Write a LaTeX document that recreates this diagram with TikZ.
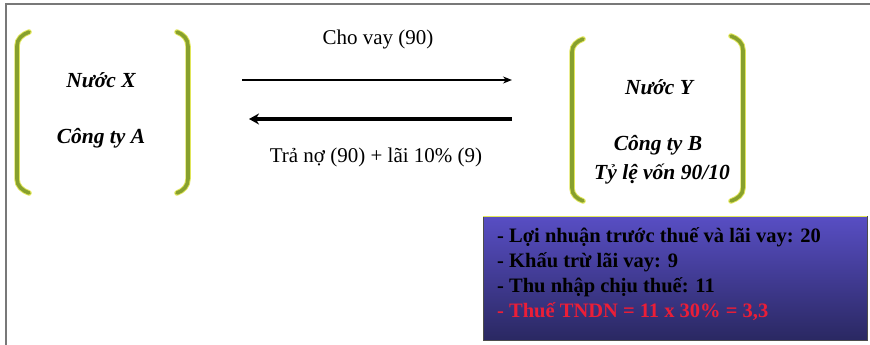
\documentclass[tikz,border=0pt]{standalone}
\usepackage{fontspec}
\setmainfont{Liberation Serif}
\usetikzlibrary{arrows.meta}
\definecolor{brkgreen}{RGB}{135,160,45}
\definecolor{brkglow}{RGB}{225,230,90}
\definecolor{boxtop}{RGB}{88,78,196}
\definecolor{boxbot}{RGB}{42,40,98}
\definecolor{redtxt}{RGB}{235,30,55}
\definecolor{framegray}{RGB}{120,120,120}
\tikzset{
  glow/.style={line width=5.5pt, brkglow, line cap=round},
  brk/.style={line width=3.6pt, brkgreen, line cap=round},
  ent/.style={font=\fontsize{21.5}{24}\selectfont\bfseries\itshape, inner sep=0pt, anchor=base},
  lbl/.style={font=\fontsize{21}{24}\selectfont, inner sep=0pt},
  flow/.style={-{Stealth[length=9pt,width=7pt]}},
  boxline/.style={font=\fontsize{20.5}{23}\selectfont\bfseries, inner sep=0pt, anchor=base west},
}
\begin{document}
\begin{tikzpicture}[x=1pt,y=-1pt]
\useasboundingbox (0,0) rectangle (870,345);
\fill[white] (0,0) rectangle (870,345);
% frame
\draw[framegray, line width=1.8pt] (6,345) -- (6,4) -- (870,4);
% brackets
\foreach \s in {glow,brk}{
  \draw[\s] (29,32) to[out=200,in=90] (17,46) -- (17,179) to[out=-90,in=160] (29,193);
  \draw[\s] (177,32) to[out=-20,in=90] (188,46) -- (188,179) to[out=-90,in=20] (177,193);
  \draw[\s] (583,39) to[out=200,in=90] (572,52) -- (572,188) to[out=-90,in=160] (583,201);
  \draw[\s] (731,36) to[out=-20,in=90] (743,50) -- (743,188) to[out=-90,in=20] (731,201);
}
% entities
\node[ent] (nx) at (101,88) {Nước X};
\node[ent] (ca) at (101,143) {Công ty A};
\node[ent] (ny) at (659,95) {Nước Y};
\node[ent] (cb) at (658,150) {Công ty B};
\node[ent] (tl) at (662,179) {Tỷ lệ vốn 90/10};
% arrows
\coordinate (a1) at (242,80);
\coordinate (b1) at (512,80);
\coordinate (a2) at (512,119);
\coordinate (b2) at (249,119);
\draw[flow, line width=1.6pt] (a1) -- (b1);
\draw[flow, line width=3.8pt, -{Stealth[length=10pt,width=11pt]}] (a2) -- (b2);
\node[lbl] (l1) at (378,39) {Cho vay (90)};
\node[lbl] (l2) at (376,157) {Trả nợ (90) + lãi 10\% (9)};
% box
\shade[top color=boxtop, bottom color=boxbot] (483,216) rectangle (867,340);
\draw[line width=0.8pt, black!70] (483,216) rectangle (867,340);
\draw[line width=0.8pt, brkglow] (483,216) -- (867,216);
\node[boxline] (t1) at (497,242) {- Lợi nhuận trước thuế và lãi vay: 20};
\node[boxline] (t2) at (497,267) {- Khấu trừ lãi vay: 9};
\node[boxline] (t3) at (497,292) {- Thu nhập chịu thuế: 11};
\node[boxline, text=redtxt] (t4) at (497,317) {- Thuế TNDN = 11 x 30\% = 3,3};
\end{tikzpicture}
\end{document}
